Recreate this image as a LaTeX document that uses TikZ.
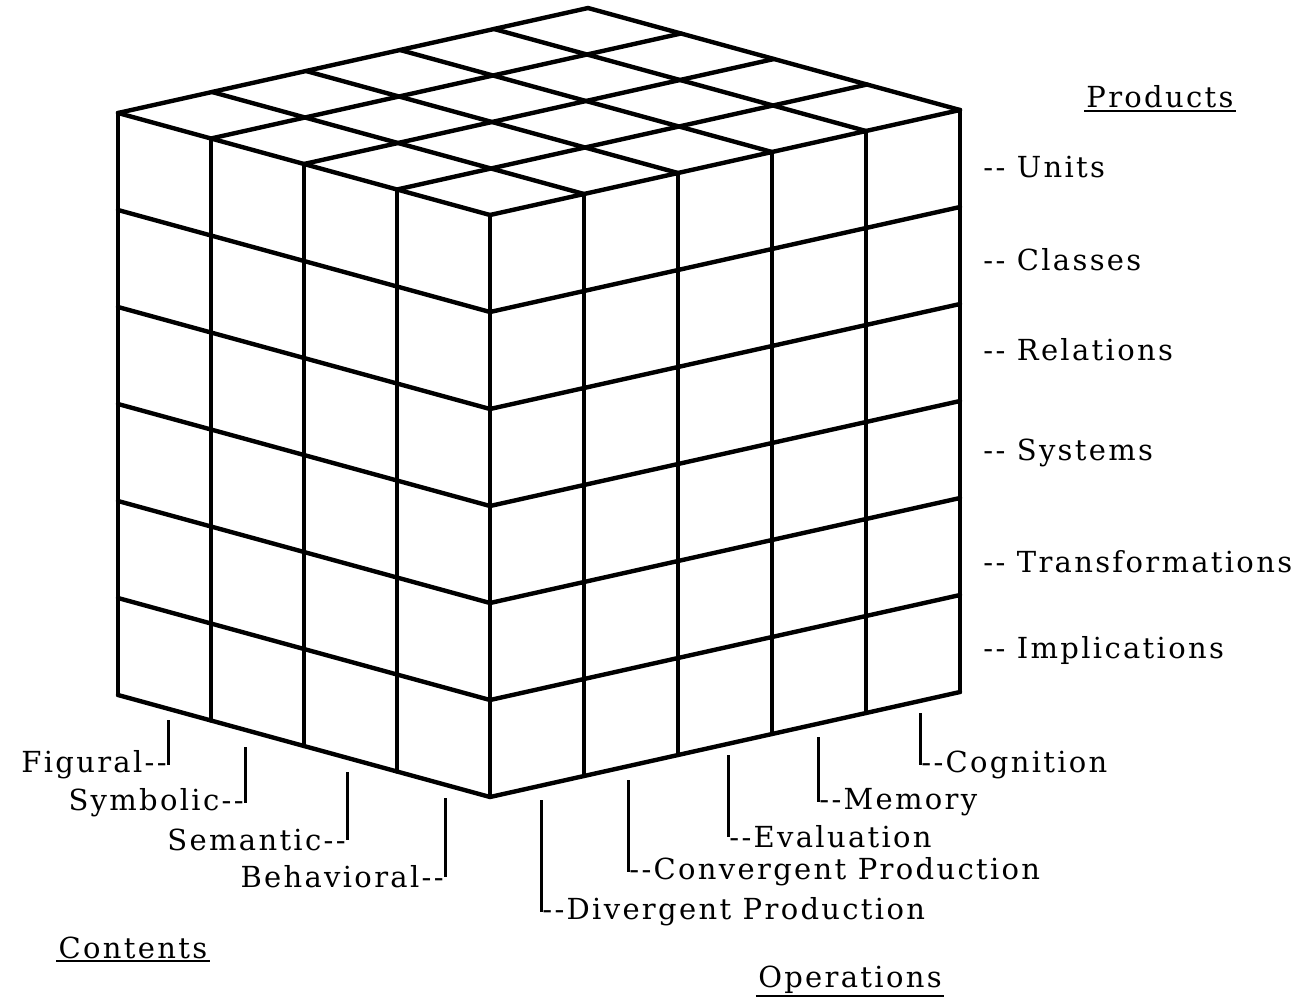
\documentclass[tikz,border=0pt]{standalone}
\usepackage{fontspec}
\setmainfont{DejaVu Serif}[LetterSpace=8]
\usepackage{tikz}
\usetikzlibrary{positioning, calc}

\begin{document}
\begin{tikzpicture}[x=0.5pt, y=-0.5pt,
  edge/.style={line width=2.2pt, line cap=round, line join=round},
  tick/.style={line width=1.5pt},
  lbl/.style={inner sep=0.5pt, font=\fontsize{14.5}{17}\selectfont},
  title/.style={inner sep=1pt, font=\fontsize{14.5}{17}\selectfont}]
\path[fill=white, use as bounding box] (0,0) rectangle (1311,1006);
% cube frame: front corner, one content step, one operation step, one product step
\coordinate (F) at (490,215);
\coordinate (l) at (-93,-25.5);
\coordinate (r) at (94,-21);
\coordinate (h) at (0,97);
\foreach \i in {0,...,4} {\coordinate (T-\i) at ($(F)+\i*(l)$);}
\foreach \j in {0,...,5} {\coordinate (U-\j) at ($(F)+\j*(r)$);}
% top face
\foreach \i in {0,...,4} {\draw[edge] (T-\i) -- ($(T-\i)+5*(r)$);}
\foreach \j in {0,...,5} {\draw[edge] (U-\j) -- ($(U-\j)+4*(l)$);}
% verticals
\foreach \i in {0,...,4} {\draw[edge] (T-\i) -- ($(T-\i)+6*(h)$);}
\foreach \j in {1,...,5} {\draw[edge] (U-\j) -- ($(U-\j)+6*(h)$);}
% rows
\foreach \k in {1,...,6} {
  \draw[edge] ($(T-4)+\k*(h)$) -- ($(F)+\k*(h)$) -- ($(U-5)+\k*(h)$);}

% products
\node[title] (products) at (1160,97) {Products};
\draw[line width=1pt] (products.south west) -- (products.south east);
\foreach \y/\name in {167/Units, 260/Classes, 350/Relations, 453/Systems, 562/Transformations, 650/Implications}
  {\node[lbl, anchor=west] (p-\name) at (982,\y) {-{}- \name};}

% contents
\foreach \x/\top/\bot/\name in {168/720/765/Figural, 245/747/803/Symbolic, 347/772/840/Semantic, 445/798/877/Behavioral} {
  \coordinate (ct-\name) at (\x,\top);
  \node[lbl, anchor=east] (c-\name) at (\x,\bot) {\name-{}-};
  \draw[tick] (ct-\name) -- (c-\name.east);}
\node[title] (contents) at (133,948) {Contents};
\draw[line width=1pt] (contents.south west) -- (contents.south east);

% operations
\foreach \x/\top/\bot/\name in {541/800/912/Divergent Production, 628/780/872/Convergent Production, 728/755/837/Evaluation, 818/737/802/Memory, 920/713/765/Cognition} {
  \coordinate (ot-\x) at (\x,\top);
  \node[lbl, anchor=west] (o-\x) at (\x,\bot) {-{}-\name};
  \draw[tick] (ot-\x) -- (o-\x.west);}
\node[title] (operations) at (850,980) {Operations};
\draw[line width=1pt] (operations.south west) -- (operations.south east);
\end{tikzpicture}
\end{document}
